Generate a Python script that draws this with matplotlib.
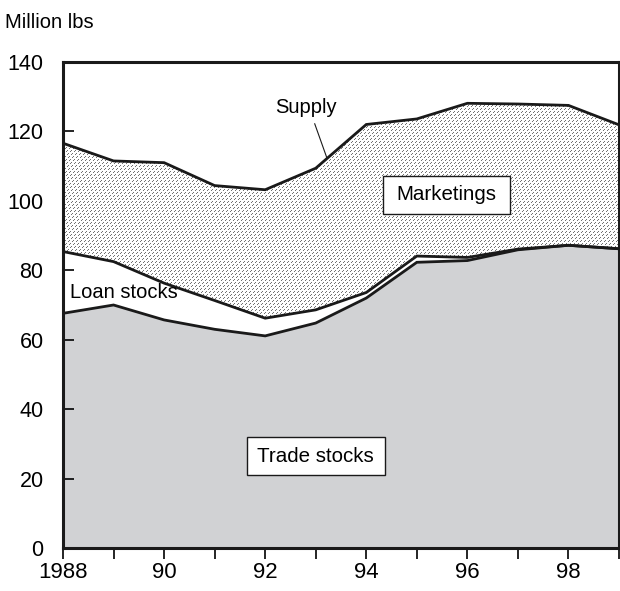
import matplotlib
matplotlib.use("Agg")
import matplotlib.pyplot as plt
from matplotlib.patches import Rectangle
import numpy as np

plt.rcParams['font.family'] = ['Liberation Sans', 'DejaVu Sans']

years = [1988, 1989, 1990, 1991, 1992, 1993, 1994, 1995, 1996, 1997, 1998, 1999]
trade_stocks = [67.6, 70.0, 65.7, 63.0, 61.1, 64.8, 72.0, 82.3, 82.8, 85.9, 87.2, 86.2]
loan_stocks = [17.8, 12.5, 10.6, 8.3, 5.1, 3.8, 1.6, 1.8, 0.9, 0.2, 0.0, 0.0]
marketings = [31.2, 29.0, 34.7, 33.1, 37.0, 40.8, 48.4, 39.5, 44.4, 41.8, 40.3, 35.7]

x_ticks = [1988, 1990, 1992, 1994, 1996, 1998]
x_ticklabels = ['1988', '90', '92', '94', '96', '98']
y_ticks = [0, 20, 40, 60, 80, 100, 120, 140]

x = np.array(years)
t = np.array(trade_stocks)
l_top = t + np.array(loan_stocks)
s_top = l_top + np.array(marketings)

W, H = 620, 591
L, R, T, B = 63, 619, 62, 548
fig = plt.figure(figsize=(W/100, H/100), dpi=100)
ax = fig.add_axes([L/W, 1-B/H, (R-L)/W, (B-T)/H])

ax.fill_between(x, 0, t, color='#d1d2d4', lw=0, zorder=1)
ax.fill_between(x, t, l_top, color='white', lw=0, zorder=1)
mk = ax.fill_between(x, l_top, s_top, facecolor='white', lw=0, zorder=1)

# dotted diagonal texture for the marketings band
ph, pw = B - T, R - L
ii, jj = np.mgrid[0:ph, 0:pw]
mask = ((ii + jj) % 4 == 0) & (ii % 3 != 0)
img = np.ones((ph, pw, 4))
img[mask, :3] = 0.45
tex = ax.imshow(img, extent=(1988, 1999, 0, 140), aspect='auto',
                interpolation='nearest', zorder=2, origin='upper')
tex.set_clip_path(mk.get_paths()[0], transform=ax.transData)

for yv in (t, l_top, s_top):
    ax.plot(x, yv, color='#1a1a1a', lw=2.0, zorder=3, solid_joinstyle='miter')

ax.set_xlim(1988, 1999)
ax.set_ylim(0, 140)
ax.set_xticks(years)
ax.set_xticklabels([x_ticklabels[x_ticks.index(y)] if y in x_ticks else '' for y in years])
ax.set_yticks(y_ticks)
ax.tick_params(axis='x', direction='out', length=8, width=1.2, labelsize=16, pad=2)
ax.tick_params(axis='y', direction='in', length=8, width=1.2, labelsize=15.5, pad=14)
for sp in ax.spines.values():
    sp.set_linewidth(2.2)
    sp.set_color('#1a1a1a')
    sp.set_zorder(6)

fig.text(5/W, 1-22/H, 'Million lbs', fontsize=14.5, va='center', ha='left')

ax.add_patch(Rectangle((1994.33, 96.2), 2.51, 11.0, facecolor='white',
                       edgecolor='#1a1a1a', lw=1.0, zorder=5))
ax.text(1995.58, 101.7, 'Marketings', fontsize=14.8, ha='center', va='center', zorder=6)
ax.add_patch(Rectangle((1991.64, 21.0), 2.73, 11.1, facecolor='white',
                       edgecolor='#1a1a1a', lw=1.0, zorder=5))
ax.text(1993.0, 26.5, 'Trade stocks', fontsize=14.8, ha='center', va='center', zorder=6)
ax.text(1989.2, 73.5, 'Loan stocks', fontsize=14.5, ha='center', va='center', zorder=6)
ax.text(1992.8, 126.8, 'Supply', fontsize=14.5, ha='center', va='center', zorder=6)
ax.plot([1992.98, 1993.22], [122.2, 112.4], color='#1a1a1a', lw=0.8, zorder=6)

fig.savefig('out.png', dpi=100)
